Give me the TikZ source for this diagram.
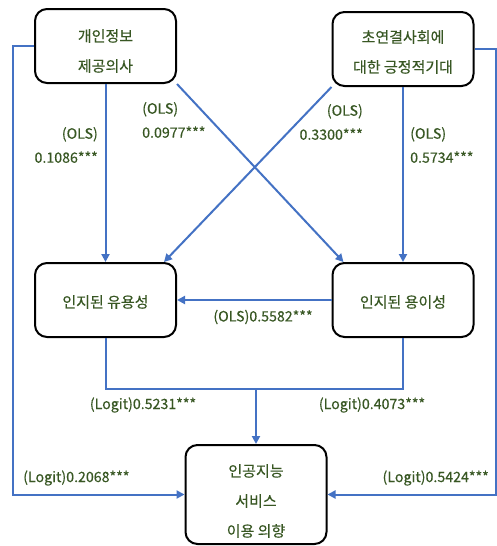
\documentclass[tikz,border=0pt]{standalone}
\usepackage{fontspec}
\setmainfont{Noto Sans CJK KR}
\newfontfamily\medfont{Noto Sans CJK KR}[FakeBold=0.3]
\usetikzlibrary{arrows.meta}
\definecolor{lineblue}{HTML}{4472C4}
\definecolor{txtgreen}{HTML}{385723}
\begin{document}
\begin{tikzpicture}[x=1pt,y=-1pt,
  box/.style={draw=black, line width=2pt, rounded corners=12pt, minimum width=141pt, minimum height=74pt, inner sep=0pt},
  boxtext/.style={text=txtgreen, font=\medfont\fontsize{15}{30}\selectfont, align=center, inner sep=0pt},
  conn/.style={draw=lineblue, line width=2pt, -{Triangle[length=8pt,width=8pt]}},
  plain/.style={draw=lineblue, line width=2pt},
  lbl/.style={text=txtgreen, font=\medfont\fontsize{14.2}{24}\selectfont, inner sep=0pt}]
\useasboundingbox (0,0) rectangle (497,546);
\fill[white] (0,0) rectangle (497,546);
% boxes
\node[box] (A) at (105.5,46) {};
\node[box] (B) at (403,49) {};
\node[box] (C) at (105.5,300) {};
\node[box] (D) at (403,300) {};
\node[box, minimum height=99pt] (E) at (256,494.5) {};
\node[boxtext] (At) at (105.5,51) {개인정보\\제공의사};
\node[boxtext] (Bt) at (403,52) {초연결사회에\\대한 긍정적기대};
\node[boxtext] (Ct) at (105.5,302) {인지된 유용성};
\node[boxtext] (Dt) at (403,302) {인지된 용이성};
\node[boxtext] (Et) at (256,501) {인공지능\\서비스\\이용 의향};
% connectors
\draw[conn] (A.south) -- (C.north);
\draw[conn] (B.south) -- (D.north);
\draw[conn] (A.south east) -- ([xshift=12pt]D.north west);
\draw[conn] (B.south west) -- ([xshift=-13pt]C.north east);
\draw[conn] (D.west) -- (C.east);
\coordinate (J) at (256,389);
\draw[plain] (C.south) |- (J) -| (D.south);
\draw[conn] (J) -- (E.north);
\draw[conn] (A.west) -- ++(-21,0) |- (E.west);
\draw[conn] (B.east) -- ++(21,0) |- (E.east);
% labels
\node[lbl, align=right, anchor=east] (l1) at (98,145) {(OLS)\\0.1086***};
\node[lbl, align=left, anchor=west] (l2) at (142,120) {(OLS)\\0.0977***};
\node[lbl, align=right, anchor=east] (l3) at (363,122) {(OLS)\\0.3300***};
\node[lbl, align=left, anchor=west] (l4) at (410,145) {(OLS)\\0.5734***};
\node[lbl] (l5) at (263,317) {(OLS)0.5582***};
\node[lbl] (l6) at (143,405) {(Logit)0.5231***};
\node[lbl] (l7) at (372,405) {(Logit)0.4073***};
\node[lbl, anchor=west] (l8) at (23,478) {(Logit)0.2068***};
\node[lbl, anchor=east] (l9) at (489,478) {(Logit)0.5424***};
\end{tikzpicture}
\end{document}
